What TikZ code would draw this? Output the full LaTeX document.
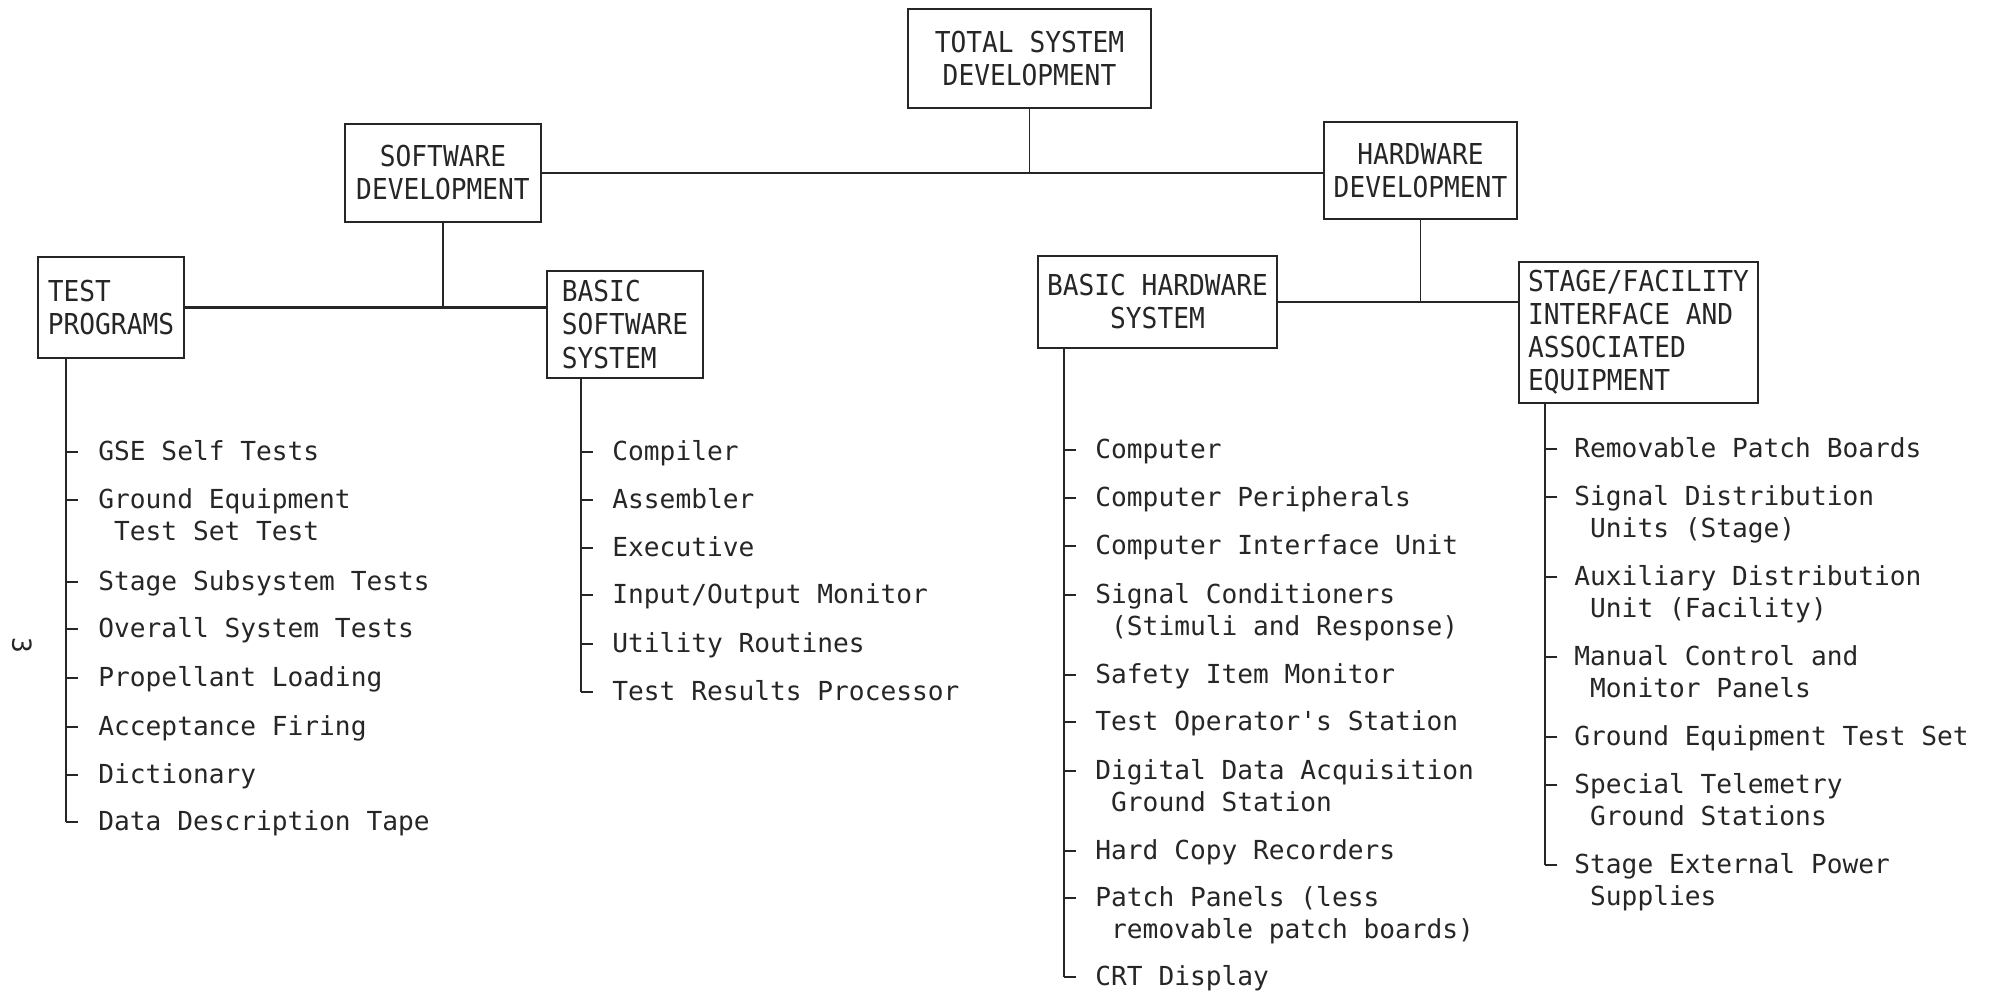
\documentclass[tikz,border=0pt]{standalone}
\usepackage{fontspec}
\newfontfamily\listfam{DejaVu Sans Mono}
\newfontfamily\boxfam[FakeStretch=0.91]{DejaVu Sans Mono}
\newcommand\listsize{\listfam\fontsize{13.1}{16}\selectfont}
\newcommand\boxsize{\boxfam\fontsize{14.4}{16.5}\selectfont}
% two-line list entry, second line indented by one character
\newcommand\twoline[2]{\vtop{\hbox{#1}\hbox{\hphantom{x}#2}}}
\colorlet{ink}{black!85}

\begin{document}
\begin{tikzpicture}[x=0.5pt,y=-0.5pt, color=ink,
  box/.style={draw, line width=1.2pt, inner sep=0pt, font=\boxsize},
  item/.style={anchor=base west, inner sep=0pt, font=\listsize},
  hline/.style={line width=1.2pt},
  vline/.style={line width=0.9pt},
  tickline/.style={line width=0.9pt}]
\useasboundingbox (0,0) rectangle (2000,993);

% ---- boxes ----
\node[box, align=center, minimum width=121.5pt, minimum height=49.5pt] (total) at (1029.5,58.5) {TOTAL SYSTEM\\DEVELOPMENT};
\node[box, align=center, minimum width=98pt, minimum height=49pt] (swdev) at (443,173) {SOFTWARE\\DEVELOPMENT};
\node[box, align=center, minimum width=96.5pt, minimum height=48.5pt] (hwdev) at (1420.5,170.5) {HARDWARE\\DEVELOPMENT};
\node[box, align=left, minimum width=73pt, minimum height=50.5pt] (testprog) at (111,307.5) {TEST\\PROGRAMS};
\node[box, align=left, minimum width=78pt, minimum height=53.5pt] (basicsw) at (625,324.5) {BASIC\\SOFTWARE\\SYSTEM};
\node[box, align=center, minimum width=119.5pt, minimum height=46pt] (basichw) at (1157.5,302) {BASIC HARDWARE\\SYSTEM};
\node[box, align=left, minimum width=119.5pt, minimum height=70.5pt] (stage) at (1638.5,332.5) {STAGE/FACILITY\\INTERFACE AND\\ASSOCIATED\\EQUIPMENT};

% ---- tree connectors ----
\draw[vline] (total.south) -- (total.south |- swdev.east);
\draw[hline] (swdev.east) -- (hwdev.west |- swdev.east);
\draw[vline] (swdev.south) -- (swdev.south |- testprog.east);
\draw[hline] (testprog.east) -- (basicsw.west |- testprog.east);
\draw[vline] (hwdev.south) -- (hwdev.south |- basichw.east);
\draw[hline] (basichw.east) -- (stage.west |- basichw.east);

% ---- test programs list ----
\node[item] (tp1) at (98,460) {GSE Self Tests};
\node[item] (tp2) at (98,508) {\twoline{Ground Equipment}{Test Set Test}};
\node[item] (tp3) at (98,590) {Stage Subsystem Tests};
\node[item] (tp4) at (98,637) {Overall System Tests};
\node[item] (tp5) at (98,686) {Propellant Loading};
\node[item] (tp6) at (98,735) {Acceptance Firing};
\node[item] (tp7) at (98,783) {Dictionary};
\node[item] (tp8) at (98,830) {Data Description Tape};
\coordinate (tptop) at (66,0 |- testprog.south);
\foreach \n/\y in {1/452,2/500,3/582,4/629,5/678,6/727,7/775,8/822}
  {\coordinate (tp\n t) at (66,\y); \draw[tickline] (tp\n t) -- ++(12,0);}
\draw[vline] (tptop) -- (tp8t);

% ---- basic software list ----
\node[item] (sw1) at (612,460) {Compiler};
\node[item] (sw2) at (612,508) {Assembler};
\node[item] (sw3) at (612,556) {Executive};
\node[item] (sw4) at (612,603) {Input/Output Monitor};
\node[item] (sw5) at (612,652) {Utility Routines};
\node[item] (sw6) at (612,700) {Test Results Processor};
\coordinate (swtop) at (581,0 |- basicsw.south);
\foreach \n/\y in {1/452,2/500,3/548,4/595,5/644,6/692}
  {\coordinate (sw\n t) at (581,\y); \draw[tickline] (sw\n t) -- ++(12,0);}
\draw[vline] (swtop) -- (sw6t);

% ---- basic hardware list ----
\node[item] (hw1) at (1095,458) {Computer};
\node[item] (hw2) at (1095,506) {Computer Peripherals};
\node[item] (hw3) at (1095,554) {Computer Interface Unit};
\node[item] (hw4) at (1095,603) {\twoline{Signal Conditioners}{(Stimuli and Response)}};
\node[item] (hw5) at (1095,683) {Safety Item Monitor};
\node[item] (hw6) at (1095,730) {Test Operator's Station};
\node[item] (hw7) at (1095,779) {\twoline{Digital Data Acquisition}{Ground Station}};
\node[item] (hw8) at (1095,859) {Hard Copy Recorders};
\node[item] (hw9) at (1095,906) {\twoline{Patch Panels (less}{removable patch boards)}};
\node[item] (hw10) at (1095,985) {CRT Display};
\coordinate (hwtop) at (1064,0 |- basichw.south);
\foreach \n/\y in {1/450,2/498,3/546,4/595,5/675,6/722,7/771,8/851,9/898,10/977}
  {\coordinate (hw\n t) at (1064,\y); \draw[tickline] (hw\n t) -- ++(12,0);}
\draw[vline] (hwtop) -- (hw10t);

% ---- stage/facility list ----
\node[item] (st1) at (1574,457) {Removable Patch Boards};
\node[item] (st2) at (1574,505) {\twoline{Signal Distribution}{Units (Stage)}};
\node[item] (st3) at (1574,585) {\twoline{Auxiliary Distribution}{Unit (Facility)}};
\node[item] (st4) at (1574,665) {\twoline{Manual Control and}{Monitor Panels}};
\node[item] (st5) at (1574,745) {Ground Equipment Test Set};
\node[item] (st6) at (1574,793) {\twoline{Special Telemetry}{Ground Stations}};
\node[item] (st7) at (1574,873) {\twoline{Stage External Power}{Supplies}};
\coordinate (sttop) at (1545,0 |- stage.south);
\foreach \n/\y in {1/449,2/497,3/577,4/657,5/737,6/785,7/865}
  {\coordinate (st\n t) at (1545,\y); \draw[tickline] (st\n t) -- ++(12,0);}
\draw[vline] (sttop) -- (st7t);

% ---- page number ----
\node[font=\listsize, rotate=-90] (pagenum) at (22,645) {3};
\end{tikzpicture}
\end{document}
